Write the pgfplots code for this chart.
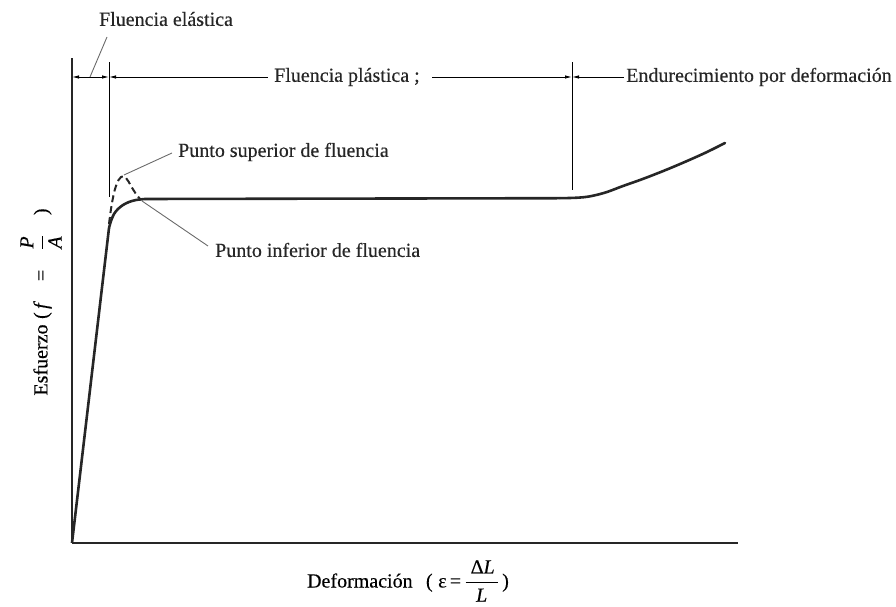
\documentclass[border=0pt]{standalone}
\usepackage{pgfplots}
\pgfplotsset{compat=1.18}
\usepackage{fontspec}
\setmainfont{Liberation Serif}[FakeBold=0.35]
\usetikzlibrary{arrows.meta}

\definecolor{ink}{HTML}{262626}
\definecolor{thin}{HTML}{4A4A4A}
\definecolor{lead}{HTML}{6A6A6A}

% Stress-strain curve of mild steel (arbitrary units)
\pgfplotstableread{
x y
0 0
37 315
}\elastic
\pgfplotstableread{
x y
37 315
39 322
42 329
46 334
51 338
57 341
64 343
73 344
}\knee
\pgfplotstableread{
x y
73 344
488 344.8
}\flat
\pgfplotstableread{
x y
488 344.8
501 345.1
512 345.8
522 347.5
535 351
551 357
568 363
585 369.5
601 376
618 383.3
635 391
653 400
}\hardening
\pgfplotstableread{
x y
37 319
40 340
44 357
49 366
54 365
59 357
64 349
69 343
}\upper

\begin{document}
\begin{tikzpicture}[font=\fontsize{20}{24}\selectfont,
  dim/.style={thin, line width=0.9pt},
  tip/.style={-{Latex[length=7pt,width=3.5pt]}}]
\path[use as bounding box] (0pt,0pt) rectangle (896pt,607pt);
\begin{axis}[
  scale only axis,
  width=666pt, height=485pt,
  at={(72pt,64pt)}, anchor=south west,
  xmin=0, xmax=666, ymin=0, ymax=485,
  axis lines=left,
  axis line style={-, draw=ink, line width=1.1pt},
  xtick=\empty, ytick=\empty,
  clip=false,
  label style={font=\fontsize{20}{24}\selectfont},
  xlabel={Deformación\enspace\,(\;ε\,=\,$\displaystyle\frac{\hspace{5pt}\mbox{Δ\textit{L}}\hspace{3pt}}{\mbox{\textit{L}}}$\,)},
  xlabel style={at={(axis cs:336,-38)}, anchor=center},
  ylabel={Esfuerzo\;(\,\textit{f}\quad=\quad$\displaystyle\frac{\mbox{\textit{P}}}{\mbox{\textit{A}}}$\quad)},
  ylabel style={at={(axis cs:-31,241)}, anchor=center, rotate=0},
]
% curve
\addplot[ink, line width=2.6pt, line join=round] table {\elastic};
\addplot[ink, line width=2.6pt, smooth, tension=0.5] table {\knee};
\addplot[ink, line width=2.6pt] table {\flat};
\addplot[ink, line width=2.6pt, smooth, tension=0.6, line cap=round] table {\hardening};
\addplot[ink, line width=2pt, dash pattern=on 7pt off 4pt, smooth, tension=0.7] table {\upper};

% limits of the zones
\draw[dim] (axis cs:37,346) -- (axis cs:37,481);
\draw[dim] (axis cs:500,353) -- (axis cs:500,481);

% dimension line
\draw[dim, {Latex[length=7pt,width=3.5pt]}-{Latex[length=7pt,width=3.5pt]}] (axis cs:0,466) -- (axis cs:37,466);
\draw[dim, {Latex[length=7pt,width=3.5pt]}-] (axis cs:37,466) -- (axis cs:196,466);
\draw[dim, tip] (axis cs:360,466) -- (axis cs:500,466);
\draw[dim, {Latex[length=7pt,width=3.5pt]}-] (axis cs:500,466) -- (axis cs:552,466);
\node[anchor=west, inner sep=0pt, text=ink] at (axis cs:202,466) {Fluencia plástica ;};
\node[anchor=west, inner sep=0pt, text=ink] at (axis cs:554,466) {Endurecimiento por deformación};

% annotations
\node[inner sep=0pt, text=ink] at (axis cs:94,524) {Fluencia elástica};
\draw[lead, line width=0.9pt] (axis cs:18,466) -- (axis cs:35,506);

\node[anchor=west, inner sep=0pt, text=ink] at (axis cs:106,391) {Punto superior de fluencia};
\draw[lead, line width=0.9pt] (axis cs:52,368) -- (axis cs:100,390);

\node[anchor=west, inner sep=0pt, text=ink] at (axis cs:143,293) {Punto inferior de fluencia};
\draw[lead, line width=0.9pt] (axis cs:70,342) -- (axis cs:136,297);
\end{axis}
\end{tikzpicture}
\end{document}
